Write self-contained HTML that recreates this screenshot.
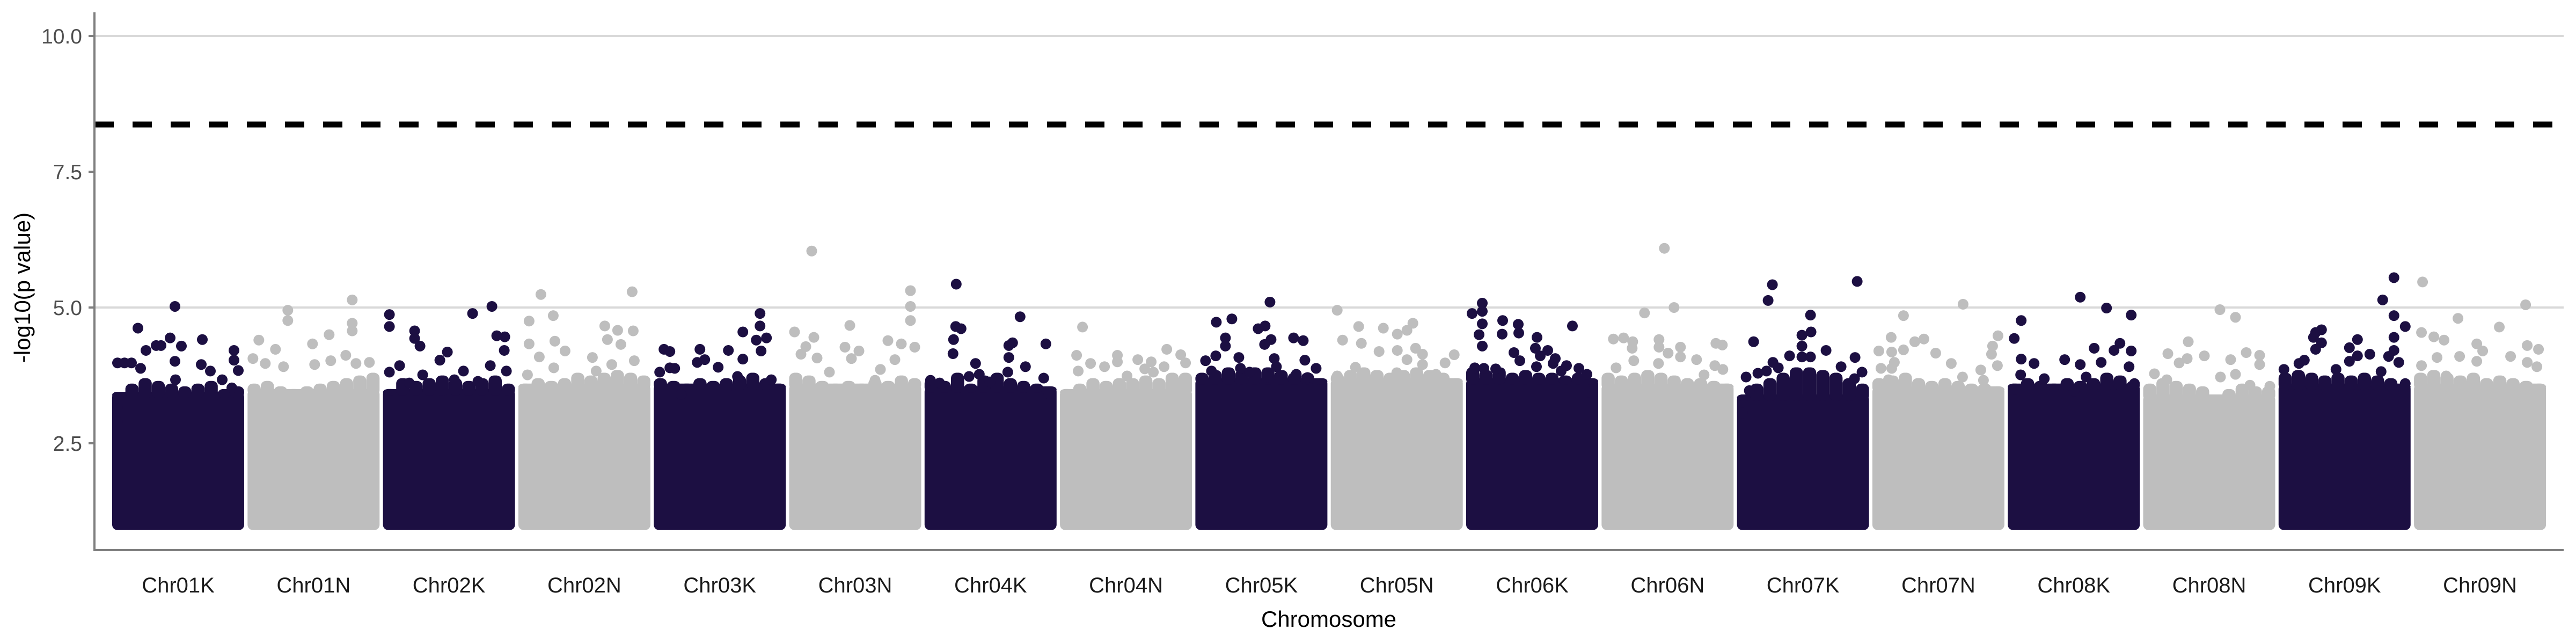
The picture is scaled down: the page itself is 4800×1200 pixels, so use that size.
<!DOCTYPE html>
<html><head><meta charset="utf-8"><style>
html,body{margin:0;padding:0;background:#fff;}
svg{display:block;}
text{font-family:"Liberation Sans",sans-serif;}
</style></head><body>
<svg id="chart" width="4800" height="1200" viewBox="0 0 4800 1200" xmlns="http://www.w3.org/2000/svg">
<g id="grid"></g>
<g id="bodies"></g>
<g id="pts"></g>
<g id="axes"></g>
</svg>
<script>
const chromosomes = ["Chr01K","Chr01N","Chr02K","Chr02N","Chr03K","Chr03N","Chr04K","Chr04N","Chr05K","Chr05N","Chr06K","Chr06N","Chr07K","Chr07N","Chr08K","Chr08N","Chr09K","Chr09N"];
const yTicks = [2.5, 5.0, 7.5, 10.0];
const yTickLabels = ["2.5","5.0","7.5","10.0"];
const gridValues = [5.0, 10.0];
const threshold = 8.37;
const bodyTops = [
[3.35,3.5,3.6,3.55,3.5,3.45,3.5,3.55,3.4,3.45],[3.5,3.55,3.45,3.4,3.45,3.5,3.55,3.6,3.65,3.7],[3.4,3.6,3.55,3.6,3.65,3.6,3.55,3.6,3.65,3.5],[3.5,3.6,3.55,3.6,3.7,3.65,3.7,3.75,3.7,3.65],
[3.6,3.55,3.5,3.6,3.55,3.6,3.65,3.7,3.6,3.5],[3.7,3.65,3.55,3.5,3.55,3.5,3.6,3.55,3.65,3.6],[3.6,3.55,3.7,3.5,3.65,3.7,3.6,3.55,3.5,3.45],[3.4,3.5,3.6,3.55,3.6,3.6,3.65,3.6,3.7,3.7],
[3.7,3.75,3.8,3.75,3.8,3.8,3.75,3.7,3.7,3.6],[3.7,3.75,3.8,3.75,3.7,3.75,3.8,3.75,3.7,3.6],[3.8,3.75,3.8,3.7,3.75,3.7,3.7,3.65,3.7,3.6],[3.7,3.65,3.7,3.75,3.7,3.65,3.6,3.6,3.55,3.5],
[3.3,3.5,3.6,3.7,3.8,3.8,3.75,3.7,3.6,3.5],[3.6,3.65,3.7,3.6,3.55,3.6,3.55,3.5,3.5,3.45],[3.5,3.6,3.55,3.5,3.6,3.55,3.6,3.7,3.65,3.55],[3.5,3.6,3.55,3.5,3.45,3.3,3.4,3.5,3.45,3.45],
[3.7,3.75,3.7,3.65,3.7,3.65,3.7,3.65,3.6,3.5],[3.7,3.75,3.7,3.65,3.7,3.6,3.65,3.6,3.55,3.5]];
const peakChr = [];
const peakPos = [];
const peakVal = [];
const peaksByChr = [
[[23.4,5.02],[9.6,4.62],[21.6,4.44],[33.6,4.41],[12.6,4.21],[16.4,4.30],[18.2,4.30],[25.8,4.29],[23.4,4.01],[45.4,4.21],[45.4,4.03],[33.2,3.95],[47,3.84],[1.8,3.98],[4.6,3.98],[7.2,3.98],[10.6,3.88],[36.6,3.83],[41,3.67],[23.6,3.67],[44.6,3.52],[1.8,3.14],[1.4,2.9]],
[[15,4.95],[15,4.76],[4.2,4.40],[10.4,4.23],[24.2,4.33],[2,4.06],[6.6,3.97],[13.4,3.91],[25,3.95],[21.4,3.37],[39,5.14],[39,4.71],[39,4.57],[30.4,4.5],[31,4.02],[36.6,4.12],[40.4,3.97],[45.4,3.99]],
[[2.4,4.87],[2.4,4.65],[11.8,4.57],[11.8,4.43],[13.8,4.29],[33.4,4.89],[40.6,5.02],[42.4,4.48],[45.4,4.46],[45.2,4.21],[24,4.18],[21.2,4.03],[6.2,3.93],[2.4,3.81],[14.8,3.76],[30,3.83],[40,3.93],[46,3.83],[26.6,3.67],[9.8,3.61],[35.4,3.64]],
[[8.4,5.24],[42.4,5.29],[4,4.75],[13,4.85],[4,4.33],[32.2,4.66],[37,4.58],[42.8,4.57],[13.6,4.38],[17.4,4.2],[7.8,4.09],[33.2,4.41],[38.2,4.32],[27.6,4.08],[34.8,3.95],[43.2,4.02],[29,3.83],[13.2,3.89],[22.4,3.64],[3.4,3.76]],
[[39.6,4.89],[39.6,4.66],[42,4.44],[33.2,4.55],[38.2,4.40],[33.2,4.05],[3.8,4.23],[6,4.19],[17.2,4.23],[27.8,4.21],[16.2,3.99],[19,4.04],[2.2,3.81],[6,3.89],[7.8,3.88],[24,3.9],[31.2,3.73],[40,4.2],[43.8,3.67],[10.2,3.4],[27,3.5]],
[[8.4,6.04],[45.2,5.31],[45.2,5.02],[45.2,4.76],[1.6,4.55],[22.6,4.67],[9.2,4.45],[6.2,4.28],[4.4,4.14],[10.4,4.07],[20.8,4.27],[26,4.2],[23.2,4.06],[36.8,4.39],[41.8,4.33],[39.4,4.04],[34,3.86],[46.8,4.27],[15,3.81],[32,3.66]],
[[11.8,5.43],[11.6,4.65],[13.6,4.61],[10.8,4.41],[10.6,4.15],[2.2,3.66],[5.6,3.61],[35.6,4.83],[32.8,4.35],[31.4,4.3],[31.4,4.08],[45.2,4.33],[19,3.97],[20.4,3.77],[24.4,3.63],[31,3.81],[37.6,3.91],[44.4,3.7],[46.4,3.41],[16.6,3.73]],
[[8.4,4.64],[6.2,4.12],[21.4,4.12],[21.4,4.0],[29,4.04],[34,4.0],[39.8,4.23],[45,4.13],[46.8,3.98],[11.4,3.97],[16.6,3.91],[6.8,3.83],[25,3.74],[38.8,3.91],[31.6,3.87],[34.8,3.81]],
[[27.8,5.1],[7.8,4.73],[13.6,4.79],[26,4.66],[23.4,4.61],[28.2,4.41],[25.8,4.32],[11.2,4.44],[11.2,4.29],[7.6,4.11],[3.8,4.02],[16.2,4.08],[29.4,4.06],[30.2,3.91],[6,3.83],[16.8,3.88],[20.2,3.81],[26.8,3.72],[36.6,4.44],[40.2,4.39],[40.8,4.03],[37.6,3.77],[41.8,3.71],[45,3.88]],
[[2.4,4.95],[10.4,4.65],[19.6,4.62],[24.8,4.51],[30.6,4.71],[28.4,4.58],[4.4,4.4],[11.4,4.34],[18,4.19],[24.8,4.21],[31.6,4.25],[34.2,4.14],[28.4,4.04],[34.2,3.95],[46,4.13],[42.6,3.98],[9.2,3.9],[2.4,3.74],[24.6,3.8],[39.2,3.77]],
[[6,5.08],[6,4.93],[2.2,4.89],[6,4.7],[4.8,4.5],[6,4.29],[13.6,4.76],[13.4,4.51],[19.4,4.69],[19.6,4.53],[39.6,4.66],[26.4,4.45],[25.8,4.25],[30.4,4.21],[27.6,4.11],[33.2,4.06],[32.4,3.97],[17.8,4.17],[20,4.02],[37.4,3.93],[42,3.88],[45,3.77],[3.2,3.89],[6.6,3.88],[11,3.87],[35.4,3.83],[26.2,3.91],[45.8,3.44]],
[[23.4,6.09],[16,4.9],[27,5.0],[4.4,4.42],[8.2,4.44],[11.6,4.37],[11.4,4.25],[21.4,4.41],[21.4,4.27],[12,4.02],[24.8,4.16],[29.4,4.27],[29.4,4.09],[42.6,4.34],[45,4.31],[35.4,4.04],[42.2,3.93],[21.2,3.97],[45.2,3.86],[38.2,3.76],[5.4,3.89]],
[[13.2,5.42],[11.6,5.13],[44.8,5.48],[27.4,4.86],[27.6,4.55],[24.2,4.49],[24.2,4.29],[6.2,4.37],[33.2,4.21],[24.2,4.09],[19.6,4.11],[27.4,4.09],[13.4,3.99],[11,3.83],[7.8,3.79],[15.4,3.89],[3.4,3.72],[38.8,3.91],[44,4.08],[46.6,3.81],[43.8,3.69],[4.6,3.47],[46.8,3.48],[1.6,3.06]],
[[11.6,4.85],[7,4.45],[15.8,4.37],[19.2,4.42],[2.4,4.2],[7.2,4.18],[11.6,4.22],[8.2,3.99],[7.2,3.88],[3.2,3.88],[6,3.67],[33.8,5.06],[46.8,4.48],[44.8,4.29],[44.4,4.14],[23.6,4.16],[29.4,3.97],[46.6,3.93],[40.4,3.85],[33.6,3.72],[41.4,3.66]],
[[27,5.19],[36.8,4.99],[46,4.86],[5,4.76],[2.4,4.43],[32.2,4.25],[41.8,4.34],[46,4.2],[39.6,4.21],[5,4.05],[9.8,3.97],[21.2,4.04],[27,3.95],[34.8,3.99],[4.8,3.76],[13.6,3.69],[29.2,3.72],[45.2,3.91],[2.8,3.49],[24.6,3.46],[47.2,3.6]],
[[28.6,4.96],[34.4,4.82],[16.8,4.37],[9.2,4.15],[22.8,4.11],[38.4,4.17],[32.6,4.04],[13.4,3.98],[16.4,4.06],[4.2,3.78],[28.8,3.72],[34.4,3.77],[8.8,3.67],[39.8,3.57],[43.4,4.12],[43.4,3.95],[47.4,3.55]],
[[43,5.55],[38.8,5.14],[43,4.85],[47.2,4.65],[43,4.45],[43,4.21],[44.8,3.99],[41,4.1],[16,4.59],[13.8,4.54],[13,4.45],[16,4.35],[13.8,4.23],[29.4,4.41],[26.4,4.26],[29.4,4.11],[34,4.14],[9.6,4.03],[7.6,3.97],[26.4,4.01],[1.8,3.86],[21.4,3.86],[38.2,3.82],[47.4,3.6]],
[[3.2,5.47],[41.6,5.05],[16.4,4.8],[31.8,4.64],[2.8,4.54],[7.4,4.46],[11.2,4.4],[23.4,4.33],[25.6,4.2],[42.2,4.3],[46.4,4.23],[2.8,3.93],[8.6,4.08],[17,4.1],[23.4,4.01],[36,4.1],[42.2,3.99],[45.8,3.91],[12,3.74]]
];
const chrLen = 49.2;
const minVal = 1.0;

const NS = "http://www.w3.org/2000/svg";
const X0 = 209, PITCH = 252.3, CW = 246;
const R = 10;
function chrStart(i){ return X0 + PITCH*i; }
function xScale(chr,pos){ return chrStart(chr) + pos*(CW/chrLen); }
function yScale(v){ return 67 + (10 - v)*101.2; }
function colorOf(i){ return i%2===0 ? "#1c0f42" : "#bebebe"; }
function mk(tag, attrs, parent){ const e=document.createElementNS(NS,tag); for(const k in attrs) e.setAttribute(k,attrs[k]); parent.appendChild(e); return e; }

const grid=document.getElementById("grid"), bodies=document.getElementById("bodies"), pts=document.getElementById("pts"), axes=document.getElementById("axes");

gridValues.forEach(v=>{
  const l=mk("line",{x1:176,x2:4777,y1:yScale(v),y2:yScale(v),stroke:"#d9d9d9","stroke-width":4},grid);
  
  
});

bodyTops.forEach((segs,ci)=>{
  const n=segs.length, sw=chrLen/n;
  const minTop=Math.min(...segs);
  const base=mk("rect",{x:xScale(ci,0),y:yScale(minTop)-R,width:CW,height:yScale(minVal)+R-(yScale(minTop)-R),rx:R,fill:colorOf(ci)},bodies);
  
  
  segs.forEach((t,si)=>{
    const xa=xScale(ci,si*sw), xb=xScale(ci,(si+1)*sw);
    const top=yScale(t)-R;
    const r=mk("rect",{x:xa,y:top,width:xb-xa,height:yScale(minTop)-top+2,rx:R,fill:colorOf(ci)},bodies);
    
    
  });
});

peaksByChr.forEach((arr,ci)=>{ arr.forEach(p=>{ peakChr.push(ci); peakPos.push(p[0]); peakVal.push(p[1]); }); });
for(let i=0;i<peakVal.length;i++){
  const ci=peakChr[i];
  const c=mk("circle",{cx:xScale(ci,Math.min(Math.max(peakPos[i],2),chrLen-2)),cy:yScale(peakVal[i]),r:R,fill:colorOf(ci)},pts);
  
  
}

const th=mk("line",{x1:176,x2:4777,y1:yScale(threshold),y2:yScale(threshold),stroke:"#000","stroke-width":11,"stroke-dasharray":"36 35"},axes);



const ya=mk("line",{x1:176,x2:176,y1:23,y2:1027,stroke:"#7f7f7f","stroke-width":4},axes);


const xa=mk("line",{x1:174,x2:4777,y1:1025,y2:1025,stroke:"#7f7f7f","stroke-width":4},axes);



yTicks.forEach((v,i)=>{
  const tk=mk("line",{x1:165,x2:176,y1:yScale(v),y2:yScale(v),stroke:"#7f7f7f","stroke-width":4},axes);
  
  
  const t=mk("text",{x:153,y:yScale(v)+14,"text-anchor":"end","font-size":39,fill:"#4d4d4d"},axes);
  t.textContent=yTickLabels[i];
  
  
});

chromosomes.forEach((c,i)=>{
  const t=mk("text",{x:xScale(i,chrLen/2),y:1104,"text-anchor":"middle","font-size":40,fill:"#1a1a1a"},axes);
  t.textContent=c;
  
  
});

const xt=mk("text",{x:2476,y:1168,"text-anchor":"middle","font-size":42,fill:"#000"},axes);
xt.textContent="Chromosome";


const yt=mk("text",{x:0,y:0,"text-anchor":"middle","font-size":42,fill:"#000",transform:"translate(56,536) rotate(-90)"},axes);
yt.textContent="-log10(p value)";


</script>
</body></html>
